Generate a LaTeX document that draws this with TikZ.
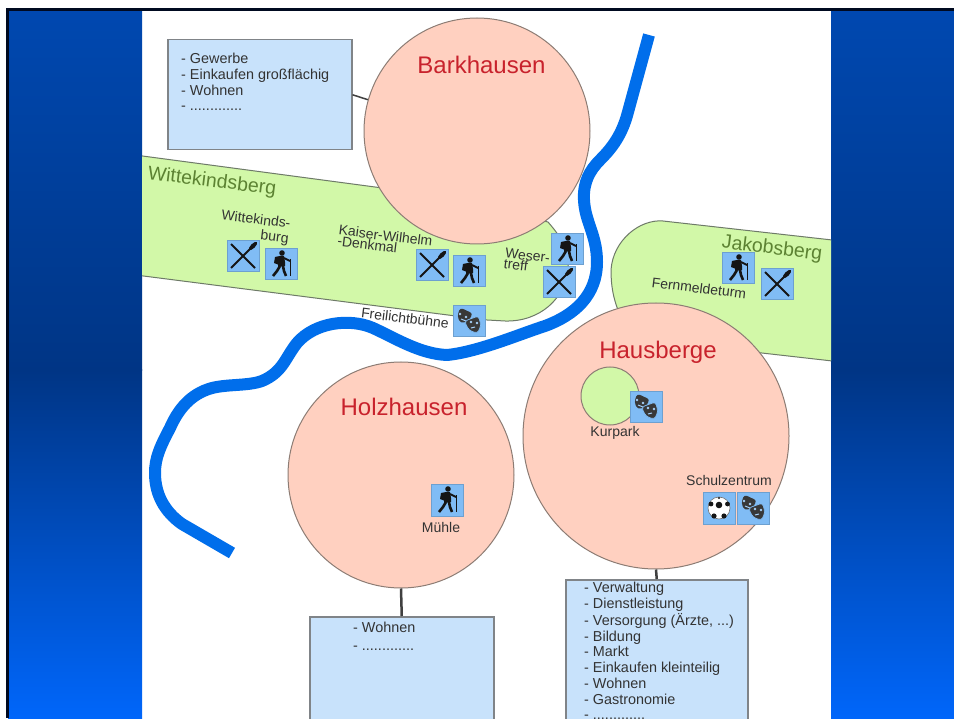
\documentclass[tikz,border=0pt]{standalone}
\usepackage{fontspec}
\setmainfont{Liberation Sans}
\definecolor{bluetop}{HTML}{0048B0}
\definecolor{bluemid}{HTML}{003585}
\definecolor{bluebot}{HTML}{0066FA}
\definecolor{framecol}{HTML}{000A20}
\definecolor{peach}{HTML}{FFD0C0}
\definecolor{peachline}{HTML}{8C7C74}
\definecolor{hill}{HTML}{D2F8A8}
\definecolor{hillline}{HTML}{6E7A68}
\definecolor{infofill}{HTML}{C8E2FB}
\definecolor{infoline}{HTML}{808488}
\definecolor{iconfill}{HTML}{80BCF5}
\definecolor{river}{HTML}{006EEB}
\definecolor{townred}{HTML}{C8222C}
\definecolor{hilltext}{HTML}{5C8232}
\definecolor{labeltext}{HTML}{333333}
\definecolor{icondark}{HTML}{151515}
\tikzset{
  x=1pt,y=-1pt,
  town/.style={circle,draw=peachline,line width=1pt,fill=peach,inner sep=0pt,minimum size=#1},
  townname/.style={text=townred,font=\fontsize{24}{26}\selectfont,inner sep=0pt},
  hillname/.style={text=hilltext,font=\fontsize{19.5}{22}\selectfont,inner sep=0pt,rotate=-7},
  hillshape/.style={fill=hill,draw=hillline,line width=1pt},
  infobox/.style={rectangle,draw=infoline,line width=1.5pt,fill=infofill,anchor=north west,inner sep=0pt},
  infotext/.style={text=labeltext,font=\fontsize{14.4}{15.7}\selectfont,align=left,anchor=north west,inner sep=0pt},
  placelabel/.style={text=labeltext,font=\fontsize{14}{#1}\selectfont,inner sep=0pt},
  placelabel/.default=11,
  iconbox/.style={rectangle,fill=iconfill,draw=iconfill!85!black,line width=.5pt,minimum size=31.5pt,inner sep=0pt},
  link/.style={draw=black!75,line width=#1},
  link/.default=2.5pt,
  hiker/.pic={
    \fill[icondark] (1,-11) circle[radius=2.8pt];
    \fill[icondark] (-1,-8) -- (3,-8) -- (4,-2) -- (4,2) -- (-3,3) -- (-3,-3) -- cycle;
    \fill[icondark] (-6,-7) -- (-1,-8) -- (-2,1) -- (-7,-1) -- cycle;
    \draw[icondark,line width=1.8pt] (3,-6) -- (9,-3);
    \draw[icondark,line width=2.6pt] (-1,2) -- (-4,7) -- (-8,12);
    \draw[icondark,line width=2.6pt] (2,2) -- (3,7) -- (5,12);
    \draw[icondark,line width=1pt] (9,-5) -- (9,12);
  },
  cutlery/.pic={
    \draw[icondark,line width=2pt] (-12,-12) -- (12,12);
    \draw[icondark,line width=2pt] (-12,12) -- (7,-7);
    \fill[icondark,rotate around={-45:(10,-10)}] (10,-10) ellipse[x radius=2.2pt,y radius=5.5pt];
  },
  masks/.pic={
    \fill[icondark!85!white,rounded corners=3pt,rotate around={-25:(-5,-5)}] (-12,-11) -- (2,-11) -- (1,-2) -- (-5,3) -- (-11,-2) -- cycle;
    \fill[icondark!85!white,draw=iconfill,line width=.7pt,rounded corners=3pt,rotate around={20:(5,3)}] (-3,-3) -- (12,-3) -- (11,7) -- (5,13) -- (-2,7) -- cycle;
    \fill[iconfill!70!white] (-9,-7) circle[radius=1.4pt] (-3,-4) circle[radius=1.4pt] (2,1) circle[radius=1.4pt] (8,2) circle[radius=1.4pt];
    \draw[iconfill!70!white,line width=1pt] (-8,-2) -- (-3,0) (2,7) -- (6,6);
  },
  soccer/.pic={
    \fill[white,draw=icondark!60!white,line width=.6pt] (0,0) circle[radius=11pt];
    \fill[icondark] (0,-3) circle[radius=3.3pt] (-8,-4) circle[radius=2.4pt] (8.5,-4) circle[radius=2.4pt]
      (5,8) circle[radius=2.6pt] (-5,8) circle[radius=2.6pt] (0,-10) circle[radius=1.2pt];
  },
}
\begin{document}
\begin{tikzpicture}
\useasboundingbox (0,0) rectangle (954,719);
\clip (0,0) rectangle (954,719);
% slide background
\fill[white] (0,0) rectangle (954,719);
\shade[top color=bluetop,bottom color=bluemid] (8,10) rectangle (142,371);
\shade[top color=bluemid,bottom color=bluebot] (8,370) rectangle (142,718);
\shade[top color=bluetop,bottom color=bluemid] (831,10) rectangle (954,371);
\shade[top color=bluemid,bottom color=bluebot] (831,370) rectangle (954,718);
\fill[framecol] (6,8) rectangle (954,11);
\fill[framecol] (6,8) rectangle (9,718);
% map area
\begin{scope}
\clip (142,11) rectangle (831,719);
\draw[hillshape] (120,153) -- (390,189) -- (548,222)
  .. controls (562,238) and (570,252) .. (568,268)
  .. controls (566,298) and (540,322) .. (505,321)
  -- (487,320) -- (120,273);
\draw[hillshape] (850,242) -- (663,221)
  .. controls (640,219) and (613,240) .. (611,270)
  .. controls (611,285) and (613,297) .. (618,310)
  -- (700,346) -- (850,363);
\node[town=226pt] (bark) at (477,131) {};
\node[town=226pt] (holz) at (401,475) {};
\node[town=266pt] (haus) at (656,436) {};
\fill[hill] (610,396) circle[radius=29pt];
\draw[peachline,line width=1pt] (610,396) circle[radius=29pt];
\draw[river,line width=12pt,line cap=butt,line join=round]
  (649,35) -- (628,112)
  .. controls (622,135) and (612,148) .. (600,160)
  .. controls (590,170) and (583,182) .. (584,200)
  .. controls (585,222) and (597,235) .. (597,262)
  .. controls (597,295) and (575,315) .. (545,326)
  .. controls (520,334) and (478,352) .. (447,355)
  .. controls (420,354) and (395,338) .. (373,328)
  .. controls (350,318) and (315,322) .. (297,343)
  .. controls (285,358) and (283,372) .. (262,381)
  .. controls (248,386) and (228,384) .. (212,388)
  .. controls (190,394) and (178,410) .. (170,428)
  .. controls (160,447) and (155,458) .. (155,473)
  .. controls (155,495) and (165,512) .. (182,524)
  -- (232,553);
% information boxes
\node[infobox,minimum width=184pt,minimum height=110pt] (barkbox) at (167,39) {};
\node[infobox,minimum width=184pt,minimum height=150pt] (holzbox) at (309,616) {};
\node[infobox,minimum width=182pt,minimum height=200pt] (hausbox) at (565,579) {};
\draw[link=1.5pt] (barkbox.east) -- (bark.164);
\draw[link] (holz.south) -- (holzbox.north);
\draw[link] (haus.south) -- (hausbox.north);
\node[infotext] (barktext) at (181,53) {- Gewerbe\\- Einkaufen großflächig\\- Wohnen\\- .............};
\node[infotext] (holztext) at (353,622) {- Wohnen\\[2pt]- .............};
\node[infotext] (haustext) at (584,582) {- Verwaltung\\- Dienstleistung\\[1.5pt]- Versorgung (Ärzte, ...)\\- Bildung\\- Markt\\- Einkaufen kleinteilig\\- Wohnen\\- Gastronomie\\- .............};
% names
\node[townname] (barkname) at (481.5,65) {Barkhausen};
\node[townname] (holzname) at (404,407) {Holzhausen};
\node[townname] (hausname) at (658,352) {Hausberge};
\node[hillname] (wittname) at (212,182) {Wittekindsberg};
\node[hillname] (jakobname) at (772,249) {Jakobsberg};
% place labels
\node[placelabel=15,rotate=-7,align=right] (l1) at (255,228) {Wittekinds-\\burg};
\node[placelabel,rotate=-7,align=left] (l2) at (385,241) {Kaiser-Wilhelm\\-Denkmal};
\node[placelabel,rotate=-7,align=left] (l3) at (527,261) {Weser-\\treff};
\node[placelabel,rotate=-7] (l4) at (699,288) {Fernmeldeturm};
\node[placelabel,rotate=-7] (l5) at (405,318) {Freilichtbühne};
\node[placelabel] (l6) at (615,433) {Kurpark};
\node[placelabel] (l7) at (729,480) {Schulzentrum};
\node[placelabel] (l8) at (441,527) {Mühle};
% icons
\foreach \n/\cx/\cy/\kind in {
  i1/243/256/cutlery, i2/281/264/hiker,
  i3/432/265/cutlery, i4/469/271/hiker,
  i5/469/321/masks,
  i6/567/249/hiker, i7/559/282/cutlery,
  i8/738/268/hiker, i9/777/284/cutlery,
  i10/646/407/masks,
  i11/447/500/hiker,
  i12/719/508/soccer, i13/753/508/masks} {
  \node[iconbox] (\n) at (\cx,\cy) {};
  \pic at (\n.center) {\kind};
}
\end{scope}
\end{tikzpicture}
\end{document}
